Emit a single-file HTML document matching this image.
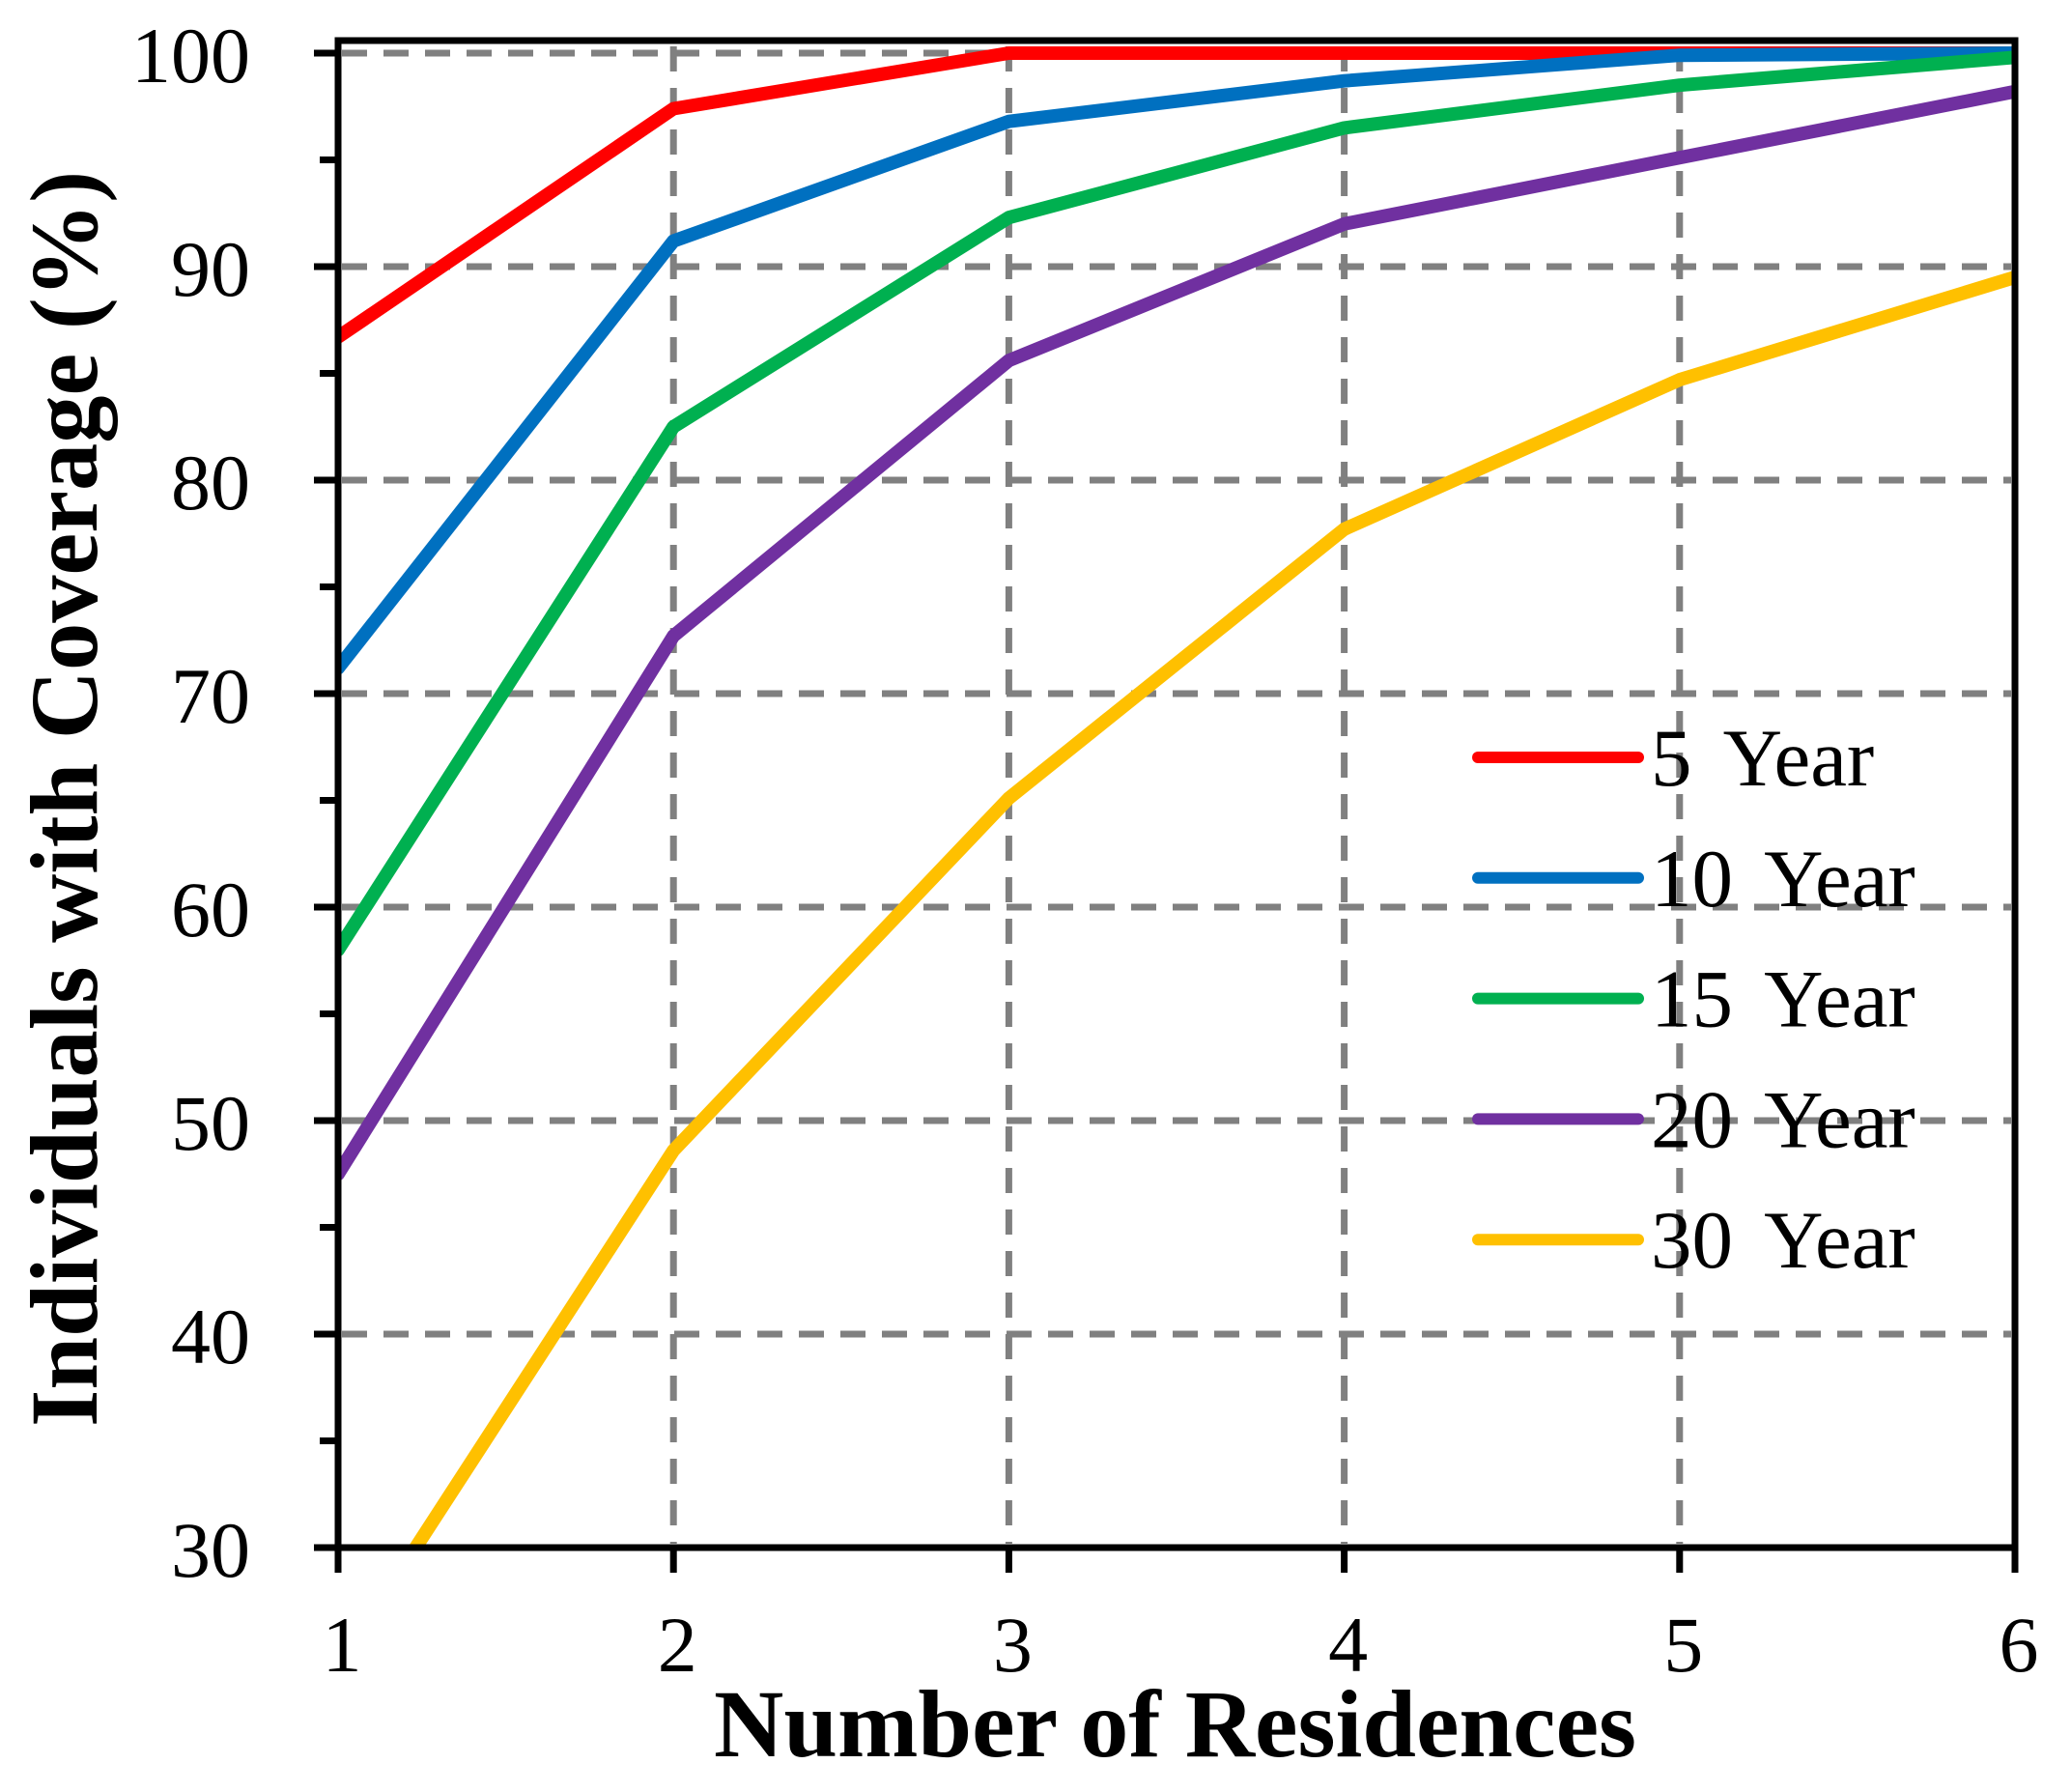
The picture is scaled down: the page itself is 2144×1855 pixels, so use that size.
<!DOCTYPE html>
<html><head><meta charset="utf-8"><style>
html,body{margin:0;padding:0;background:#fff;}
svg{display:block;font-family:"Liberation Serif",serif;}
</style></head><body>
<svg id="chart" width="2144" height="1855" viewBox="0 0 2144 1855" xmlns="http://www.w3.org/2000/svg">
<defs><clipPath id="plotclip"><rect x="350" y="42" width="1736" height="1560"/></clipPath></defs>
<g id="grid"></g>
<g id="series" clip-path="url(#plotclip)"></g>
<g id="axes"></g>
<g id="legend"></g>
<text x="739" y="1818" font-size="100" font-weight="bold" textLength="955" lengthAdjust="spacingAndGlyphs">Number of Residences</text>
<text transform="translate(100,827) rotate(-90)" text-anchor="middle" font-size="100" font-weight="bold" textLength="1300" lengthAdjust="spacingAndGlyphs">Individuals with Coverage (%)</text>
</svg>
<script>
const categories = [1, 2, 3, 4, 5, 6];
const seriesNames = ["5 Year", "10 Year", "15 Year", "20 Year", "30 Year"];
const seriesColors = ["#ff0000", "#0070c0", "#00b050", "#7030a0", "#ffc000"];
const y5 = [86.7, 97.4, 100, 100, 100, 100];
const y10 = [71.2, 91.2, 96.8, 98.7, 99.9, 100];
const y15 = [58.0, 82.5, 92.3, 96.5, 98.5, 99.8];
const y20 = [47.5, 72.7, 85.6, 92.0, 95.1, 98.2];
const y30 = [24.4, 48.6, 65.1, 77.7, 84.7, 89.5];
const yTicks = [30, 40, 50, 60, 70, 80, 90, 100];
const yMinorTicks = [35, 45, 55, 65, 75, 85, 95];

const NS = "http://www.w3.org/2000/svg";
const X0 = 350, X1 = 2086, Y0 = 1602, Y1 = 55;
function xs(v){ return X0 + (v - 1) / 5 * (X1 - X0); }
function ys(v){ return Y0 - (v - 30) / 70 * (Y0 - Y1); }
function mk(tag, attrs, parent){ const e = document.createElementNS(NS, tag); for (const k in attrs) e.setAttribute(k, attrs[k]); parent.appendChild(e); return e; }

const grid = document.getElementById('grid');
yTicks.slice(1).forEach(v => {
  const l = mk('line', {x1: X0 + 4, x2: X1 - 4, y1: ys(v), y2: ys(v), stroke: '#808080', 'stroke-width': 7, 'stroke-dasharray': '26 17'}, grid);
  
  
});
categories.slice(1, -1).forEach(c => {
  const l = mk('line', {x1: xs(c), x2: xs(c), y1: 48, y2: Y0 - 4, stroke: '#808080', 'stroke-width': 7, 'stroke-dasharray': '26 17'}, grid);
  
  
});

const ser = document.getElementById('series');
[y5, y10, y15, y20, y30].forEach((arr, i) => {
  const pts = arr.map((v, j) => xs(categories[j]).toFixed(1) + ',' + ys(v).toFixed(1)).join(' ');
  const p = mk('polyline', {points: pts, fill: 'none', stroke: seriesColors[i], 'stroke-width': 14, 'stroke-linejoin': 'round', 'stroke-linecap': 'round'}, ser);
  
  
});

const axes = document.getElementById('axes');
const frame = mk('rect', {x: X0, y: 42, width: X1 - X0, height: Y0 - 42, fill: 'none', stroke: '#000', 'stroke-width': 7}, axes);


yTicks.forEach(v => {
  const t = mk('line', {x1: 325, x2: X0, y1: ys(v), y2: ys(v), stroke: '#000', 'stroke-width': 7}, axes);
  
  
  const lb = mk('text', {x: 259, y: ys(v) + 30, 'text-anchor': 'end', 'font-size': 82}, axes);
  lb.textContent = v;
  
  
});
yMinorTicks.forEach(v => {
  const t = mk('line', {x1: 331, x2: X0, y1: ys(v), y2: ys(v), stroke: '#000', 'stroke-width': 7}, axes);
  
  
});
categories.forEach(c => {
  const t = mk('line', {x1: xs(c), x2: xs(c), y1: Y0, y2: 1628, stroke: '#000', 'stroke-width': 7}, axes);
  
  
  const lb = mk('text', {x: xs(c) + 4, y: 1730, 'text-anchor': 'middle', 'font-size': 82}, axes);
  lb.textContent = c;
  
  
});

const leg = document.getElementById('legend');
seriesNames.forEach((n, i) => {
  const y = 784 + i * 124.8;
  const l = mk('line', {x1: 1530, x2: 1696, y1: y, y2: y, stroke: seriesColors[i], 'stroke-width': 12, 'stroke-linecap': 'round'}, leg);
  
  
  const t = mk('text', {x: 1709, y: y + 29, 'font-size': 85}, leg);
  t.textContent = n;
  
  
  t.setAttribute('word-spacing', '14');
});
</script>
</body></html>
